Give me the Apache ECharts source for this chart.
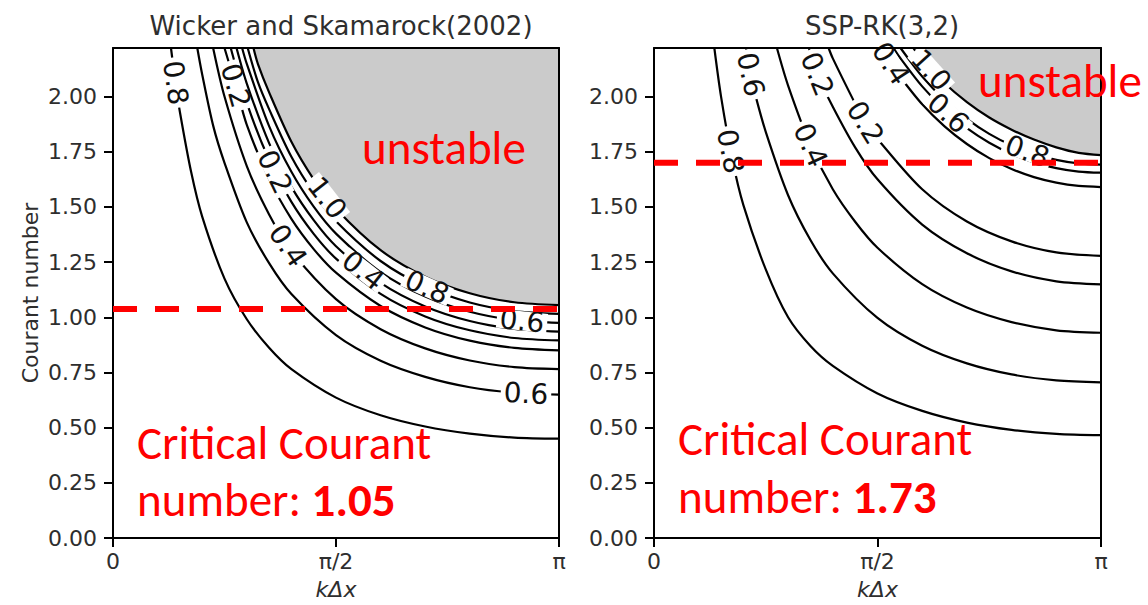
<!DOCTYPE html>
<html><head><meta charset="utf-8">
<script src="https://cdn.jsdelivr.net/npm/echarts@6/dist/echarts.min.js"></script>
<style>html,body{margin:0;padding:0;background:#fff;}#chart{width:1148px;height:605px;}</style>
</head><body><div id="chart"></div>
<script>
// ---------- tick definitions ----------
const xTicks = [0, 0.5, 1];                 // kΔx in units of π
const xTickLabels = ['0', 'π/2', 'π'];
const yTicks = [0, 0.25, 0.5, 0.75, 1.0, 1.25, 1.5, 1.75, 2.0];
const yMax = 2.22;

// ---------- Wicker and Skamarock (2002) contours: [kΔx/π, Courant] ----------
const wsC08a = [[0.13,2.22],[0.14,2.063],[0.15,1.93],[0.175,1.66],[0.2,1.456],[0.25,1.175],[0.3,0.991],[0.35,0.862],[0.4,0.765],[0.5,0.636],[0.6,0.556],[0.7,0.505],[0.8,0.473],[0.9,0.455],[1.0,0.45]];
const wsC06a = [[0.189,2.22],[0.2,2.10],[0.225,1.865],[0.25,1.70],[0.3,1.43],[0.35,1.245],[0.4,1.105],[0.5,0.919],[0.6,0.803],[0.7,0.73],[0.8,0.683],[0.9,0.658],[1.0,0.65]];
const wsC04a = [[0.2245,2.22],[0.25,2.0],[0.3,1.685],[0.35,1.466],[0.4,1.30],[0.5,1.082],[0.6,0.946],[0.7,0.859],[0.8,0.804],[0.9,0.774],[1.0,0.765]];
const wsC02a = [[0.25,2.22],[0.275,2.05],[0.3,1.872],[0.35,1.627],[0.4,1.446],[0.45,1.309],[0.5,1.202],[0.6,1.051],[0.7,0.954],[0.8,0.894],[0.9,0.861],[1.0,0.85]];
const wsC02b = [[0.264,2.22],[0.3,1.971],[0.35,1.713],[0.4,1.523],[0.45,1.378],[0.5,1.266],[0.6,1.106],[0.7,1.004],[0.8,0.941],[0.9,0.906],[1.0,0.895]];
const wsC04b = [[0.277,2.22],[0.3,2.059],[0.35,1.789],[0.4,1.591],[0.45,1.44],[0.5,1.322],[0.6,1.156],[0.7,1.049],[0.8,0.983],[0.9,0.947],[1.0,0.935]];
const wsC06b = [[0.2895,2.22],[0.3,2.148],[0.35,1.866],[0.4,1.659],[0.45,1.501],[0.5,1.379],[0.6,1.205],[0.7,1.094],[0.8,1.025],[0.9,0.987],[1.0,0.975]];
const wsC08b = [[0.302,2.22],[0.325,2.065],[0.35,1.943],[0.4,1.727],[0.45,1.563],[0.5,1.435],[0.6,1.255],[0.7,1.139],[0.8,1.067],[0.9,1.028],[1.0,1.015]];
const wsC10  = [[0.315,2.22],[0.325,2.147],[0.35,2.019],[0.4,1.795],[0.45,1.625],[0.5,1.492],[0.6,1.304],[0.7,1.184],[0.8,1.109],[0.9,1.068],[1.0,1.055]];
const wsLabels = [[0.14,2.063,'0.8',-82],[0.275,2.05,'0.2',-74],[0.363,1.659,'0.2',-64],[0.392,1.325,'0.4',-56],[0.48,1.541,'1.0',-52],[0.561,1.212,'0.4',-38],[0.704,1.137,'0.8',-24],[0.917,0.984,'0.6',-6],[0.926,0.655,'0.6',-3]];
const wsCritical = 1.037;

// ---------- SSP-RK(3,2) contours ----------
const sspC08a = [[0.135,2.22],[0.15,2.0],[0.175,1.717],[0.2,1.508],[0.25,1.217],[0.3,1.0],[0.35,0.87],[0.4,0.78],[0.5,0.655],[0.6,0.576],[0.7,0.523],[0.8,0.49],[0.9,0.472],[1.0,0.466]];
const sspC06a = [[0.206,2.22],[0.216,2.10],[0.225,2.02],[0.25,1.84],[0.3,1.553],[0.35,1.35],[0.4,1.199],[0.5,0.997],[0.6,0.871],[0.7,0.791],[0.8,0.741],[0.9,0.714],[1.0,0.705]];
const sspC04a = [[0.275,2.22],[0.3,2.05],[0.35,1.78],[0.4,1.58],[0.45,1.433],[0.5,1.315],[0.6,1.15],[0.7,1.044],[0.8,0.978],[0.9,0.941],[1.0,0.93]];
const sspC02a = [[0.3465,2.22],[0.365,2.102],[0.4,1.954],[0.45,1.77],[0.5,1.625],[0.6,1.42],[0.7,1.29],[0.8,1.208],[0.9,1.163],[1.0,1.149]];
const sspC02b = [[0.3906,2.22],[0.4,2.173],[0.45,1.968],[0.4726,1.882],[0.5,1.808],[0.6,1.58],[0.7,1.434],[0.8,1.344],[0.9,1.294],[1.0,1.278]];
const sspC04b = [[0.508,2.22],[0.53,2.15],[0.55,2.091],[0.6,1.965],[0.65,1.865],[0.7,1.785],[0.75,1.721],[0.8,1.672],[0.85,1.635],[0.9,1.61],[0.95,1.595],[1.0,1.59]];
const sspC06b = [[0.536,2.22],[0.55,2.177],[0.6,2.046],[0.65,1.941],[0.7,1.857],[0.75,1.791],[0.8,1.74],[0.85,1.702],[0.9,1.676],[0.95,1.66],[1.0,1.655]];
const sspC08b = [[0.5515,2.22],[0.6,2.091],[0.65,1.985],[0.7,1.899],[0.75,1.831],[0.8,1.779],[0.85,1.74],[0.9,1.713],[0.95,1.697],[1.0,1.692]];
const sspC10  = [[0.58,2.22],[0.6,2.165],[0.65,2.06],[0.7,1.975],[0.75,1.905],[0.8,1.85],[0.85,1.805],[0.9,1.77],[0.95,1.745],[1.0,1.735]];
const sspLabels = [[0.171,1.752,'0.8',-79],[0.216,2.10,'0.6',-78],[0.35,1.78,'0.4',-66],[0.365,2.102,'0.2',-68],[0.4726,1.882,'0.2',-58],[0.53,2.15,'0.4',-57],[0.62,2.12,'1.0',-48],[0.658,1.925,'0.6',-42],[0.835,1.752,'0.8',-20]];
const sspCritical = 1.70;

// ---------- texts ----------
const titles = ['Wicker and Skamarock(2002)', 'SSP-RK(3,2)'];
const critText = ['1.05', '1.73'];

const FONT = "'DejaVu Sans', sans-serif";
const RFONT = "Carlito, Lato, 'Open Sans', sans-serif";
const TXT = '#2e2e2e';

const grids = [
  {left: 113, top: 48, width: 446, height: 494},
  {left: 654, top: 48, width: 447, height: 494}
];

function mainX(g) {
  return {
    gridIndex: g, type: 'value', min: 0, max: 1, position: 'bottom', z: 10,
    axisLine: {show: true, onZero: false, lineStyle: {color: '#000', width: 2}},
    axisTick: {show: true, customValues: xTicks, length: 9, lineStyle: {color: '#000', width: 2}},
    axisLabel: {customValues: xTicks, margin: 12, fontSize: 22, color: TXT, fontFamily: FONT,
      formatter: v => xTickLabels[xTicks.indexOf(v)] ?? ''},
    splitLine: {show: false},
    name: 'kΔx', nameLocation: 'middle', nameGap: 40,
    nameTextStyle: {fontSize: 22, color: TXT, fontFamily: FONT, fontStyle: 'italic'}
  };
}
function frameX(g) {
  return {gridIndex: g, type: 'value', min: 0, max: 1, position: 'top', z: 10,
    axisLine: {show: true, onZero: false, lineStyle: {color: '#000', width: 2}},
    axisTick: {show: false}, axisLabel: {show: false}, splitLine: {show: false}};
}
function mainY(g) {
  const a = {
    gridIndex: g, type: 'value', min: 0, max: yMax, position: 'left', z: 10,
    axisLine: {show: true, onZero: false, lineStyle: {color: '#000', width: 2}},
    axisTick: {show: true, customValues: yTicks, length: 9, lineStyle: {color: '#000', width: 2}},
    axisLabel: {customValues: yTicks, margin: 16, fontSize: 22, color: TXT, fontFamily: FONT,
      formatter: v => v.toFixed(2)},
    splitLine: {show: false}
  };
  if (g === 0) {
    a.name = 'Courant number'; a.nameLocation = 'middle'; a.nameGap = 72;
    a.nameTextStyle = {fontSize: 22, color: TXT, fontFamily: FONT};
  }
  return a;
}
function frameY(g) {
  return {gridIndex: g, type: 'value', min: 0, max: yMax, position: 'right', z: 10,
    axisLine: {show: true, onZero: false, lineStyle: {color: '#000', width: 2}},
    axisTick: {show: false}, axisLabel: {show: false}, splitLine: {show: false}};
}

function contour(g, data) {
  return {type: 'line', xAxisIndex: g, yAxisIndex: g, data: data, showSymbol: false,
    smooth: 0.3, silent: true, z: 3,
    lineStyle: {color: '#000', width: 2.2}};
}
function edge(g, data) {
  return {type: 'line', xAxisIndex: g, yAxisIndex: g, data: data, showSymbol: false,
    smooth: 0.3, silent: true, z: 2,
    lineStyle: {color: '#000', width: 2.2},
    areaStyle: {color: '#cbcbcb', opacity: 1, origin: 'end'}};
}
function labels(g, list) {
  return {type: 'scatter', xAxisIndex: g, yAxisIndex: g, z: 6, silent: true,
    symbolSize: 2, itemStyle: {color: 'rgba(0,0,0,0)', opacity: 1},
    data: list.map(d => ({value: [d[0], d[1]],
      label: {show: true, position: 'inside', formatter: d[2], rotate: d[3],
        fontSize: 28, fontFamily: FONT, color: '#111', lineHeight: 19,
        backgroundColor: '#fff', padding: [0, 3]}}))};
}
function dashed(g, yv) {
  return {type: 'line', xAxisIndex: g, yAxisIndex: g, data: [[0, yv], [1, yv]], showSymbol: false,
    silent: true, z: 20, lineStyle: {color: '#ff0000', width: 6, type: [24, 18]}};
}

const series = [
  edge(0, wsC10),
  contour(0, wsC08a), contour(0, wsC06a), contour(0, wsC04a), contour(0, wsC02a),
  contour(0, wsC02b), contour(0, wsC04b), contour(0, wsC06b), contour(0, wsC08b),
  labels(0, wsLabels), dashed(0, wsCritical),
  edge(1, sspC10),
  contour(1, sspC08a), contour(1, sspC06a), contour(1, sspC04a), contour(1, sspC02a),
  contour(1, sspC02b), contour(1, sspC04b), contour(1, sspC06b), contour(1, sspC08b),
  labels(1, sspLabels), dashed(1, sspCritical)
];

function redText(x, y, txt, rich) {
  return {type: 'text', x: x, y: y, z: 100,
    style: {text: txt, fill: '#ff0000', fontSize: 47, fontFamily: RFONT,
      verticalAlign: 'middle', align: 'left',
      rich: rich ? {b: {fontWeight: 'bold', fontSize: 47, fontFamily: RFONT, fill: '#ff0000'}} : undefined}};
}

const option = {
  animation: false,
  backgroundColor: '#fff',
  title: [
    {text: titles[0], left: 336, top: 8, textAlign: 'center',
      textStyle: {fontSize: 26, fontWeight: 'normal', color: TXT, fontFamily: FONT}},
    {text: titles[1], left: 877, top: 8, textAlign: 'center',
      textStyle: {fontSize: 26, fontWeight: 'normal', color: TXT, fontFamily: FONT}}
  ],
  grid: grids,
  xAxis: [mainX(0), mainX(1), frameX(0), frameX(1)],
  yAxis: [mainY(0), mainY(1), frameY(0), frameY(1)],
  series: series,
  graphic: [
    redText(362, 148, 'unstable'),
    redText(978, 81, 'unstable'),
    redText(137, 443, 'Critical Courant'),
    redText(137, 500, 'number: {b|' + critText[0] + '}', true),
    redText(678, 439, 'Critical Courant'),
    redText(678, 497, 'number: {b|' + critText[1] + '}', true)
  ]
};

const chart = echarts.init(document.getElementById('chart'), null, {renderer: 'svg'});
chart.setOption(option);
</script></body></html>
